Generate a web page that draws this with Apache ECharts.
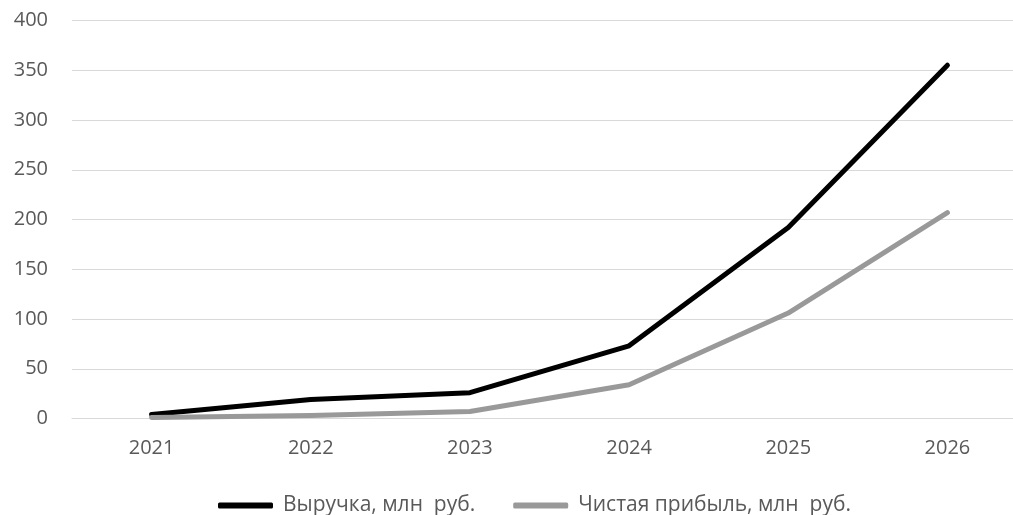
<!DOCTYPE html>
<html><head><meta charset="utf-8">
<script src="https://cdn.jsdelivr.net/npm/echarts@6/dist/echarts.min.js"></script>
<style>html,body{margin:0;padding:0;background:#fff}#c{width:1013px;height:515px}</style>
</head><body><div id="c"></div>
<script>
const years = ['2021','2022','2023','2024','2025','2026'];
const revenue = [4, 19, 26, 73, 192, 355];
const profit = [1, 3, 7, 34, 106, 207];
const seriesNames = ['Выручка, млн  руб.', 'Чистая прибыль, млн  руб.'];
const yTicks = {min: 0, max: 400, interval: 50};

const font = 'Open Sans';
const chart = echarts.init(document.getElementById('c'));
chart.setOption({
  animation: false,
  grid: {left: 72, top: 20.5, width: 955, height: 398, containLabel: false, outerBoundsMode: 'none'},
  legend: {
    left: 213, top: 490,
    icon: 'roundRect', itemWidth: 55, itemHeight: 6, itemGap: 38,
    textStyle: {fontFamily: font, fontSize: 21, color: '#595959', padding: [0,0,0,5]},
    data: [
      {name: seriesNames[0], itemStyle: {color: '#000'}},
      {name: seriesNames[1], itemStyle: {color: '#999'}}
    ]
  },
  xAxis: {
    type: 'category', data: years, boundaryGap: true,
    axisLine: {show: true, lineStyle: {color: '#d9d9d9', width: 1}},
    axisTick: {show: false},
    axisLabel: {fontFamily: font, fontSize: 20, color: '#595959', margin: 20}
  },
  yAxis: {
    type: 'value', min: yTicks.min, max: yTicks.max, interval: yTicks.interval,
    axisLine: {show: false}, axisTick: {show: false},
    splitLine: {lineStyle: {color: '#d9d9d9', width: 1}},
    axisLabel: {fontFamily: font, fontSize: 20, color: '#595959', margin: 24}
  },
  series: [
    {name: seriesNames[0], type: 'line', data: revenue, symbol: 'none',
     lineStyle: {color: '#000', width: 5, cap: 'round', join: 'round'}, itemStyle: {color: '#000'}},
    {name: seriesNames[1], type: 'line', data: profit, symbol: 'none',
     lineStyle: {color: '#999', width: 5, cap: 'round', join: 'round'}, itemStyle: {color: '#999'}}
  ]
});
</script></body></html>
